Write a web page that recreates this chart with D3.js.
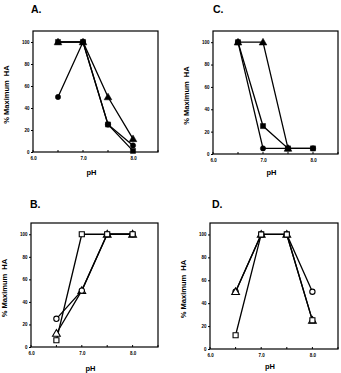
<!DOCTYPE html>
<html lang="en">
<head>
  <meta charset="UTF-8">
  <title>% Maximum HA vs pH</title>
  <script src="https://d3js.org/d3.v7.min.js"></script>
  <style>
    body { margin: 0; background: #fff; }
    svg { display: block; font-family: "Liberation Sans", Arial, sans-serif; font-weight: bold; }
  </style>
</head>
<body>
<svg id="chart" width="341" height="373"></svg>
<script>
  // pH values measured
  const phValues = [6.5, 7.0, 7.5, 8.0];
  const xTickLabels = [6.0, 7.0, 8.0];
  const xMinorTicks = [6.5, 7.5, 8.5];
  const yTickLabels = [0, 20, 40, 60, 80, 100];

  // panel A (filled symbols)
  const aCircle = [50, 100, 25, 6];
  const aSquare = [100, 100, 25, 1];
  const aTriangle = [100, 100, 50, 12];
  // panel C (filled symbols)
  const cCircle = [100, 5, 5, 5];
  const cSquare = [100, 25, 5, 5];
  const cTriangle = [100, 100, 5, null];
  // panel B (open symbols)
  const bCircle = [25, 50, 100, 100];
  const bSquare = [6, 100, 100, 100];
  const bTriangle = [12, 50, 100, 100];
  // panel D (open symbols)
  const dCircle = [50, 100, 100, 50];
  const dSquare = [12, 100, 100, 25];
  const dTriangle = [50, 100, 100, 25];

  const svg = d3.select("#chart");

  const panels = [
    { label: "A.", box: [33, 31, 158, 152], lx: 31, ly: 12.5, fill: true, ph: 175,
      series: [["triangle", aTriangle], ["circle", aCircle], ["square", aSquare]] },
    { label: "C.", box: [213, 31, 338, 154], lx: 213, ly: 13, fill: true, ph: 175,
      series: [["triangle", cTriangle], ["circle", cCircle], ["square", cSquare]] },
    { label: "B.", box: [31, 223, 158, 347], lx: 30, ly: 207.5, fill: false, ph: 371,
      series: [["triangle", bTriangle], ["circle", bCircle], ["square", bSquare]] },
    { label: "D.", box: [210, 223, 338, 349], lx: 212, ly: 207.5, fill: false, ph: 369,
      series: [["circle", dCircle], ["triangle", dTriangle], ["square", dSquare]] }
  ];

  const symbolType = { circle: d3.symbolCircle, square: d3.symbolSquare, triangle: d3.symbolTriangle };
  const symbolSize = { circle: 22, square: 26, triangle: 26 };

  panels.forEach(p => {
    const [x0, y0, x1, y1] = p.box;
    const x = d3.scaleLinear().domain([6, 8.5]).range([x0, x1]);
    const y = d3.scaleLinear().domain([0, 110]).range([y1, y0]);
    const g = svg.append("g");

    g.append("rect")
      .attr("x", x0).attr("y", y0)
      .attr("width", x1 - x0).attr("height", y1 - y0)
      .attr("fill", "none").attr("stroke", "#000").attr("stroke-width", 1.2);

    // y axis
    const yAxis = d3.axisLeft(y).tickValues(yTickLabels).tickSize(2).tickPadding(1.5)
      .tickFormat(d3.format("d"));
    g.append("g").attr("transform", `translate(${x0},0)`).call(yAxis)
      .call(a => a.select(".domain").remove())
      .call(a => a.selectAll("text").attr("font-size", 4.5).attr("font-family", null));

    // x axis
    const xAxis = d3.axisBottom(x).tickValues(xTickLabels).tickSize(0).tickPadding(5)
      .tickFormat(d3.format(".1f"));
    g.append("g").attr("transform", `translate(0,${y1})`).call(xAxis)
      .call(a => a.select(".domain").remove())
      .call(a => a.selectAll("text").attr("font-size", 4.5).attr("font-family", null));
    g.selectAll(".xtick").data(xTickLabels.concat(xMinorTicks)).enter().append("line")
      .attr("x1", d => x(d)).attr("x2", d => x(d))
      .attr("y1", y1).attr("y2", y1 - 2)
      .attr("stroke", "#000").attr("stroke-width", 1);

    // lines
    const line = d3.line()
      .defined(d => d[1] != null)
      .x(d => x(d[0])).y(d => y(d[1]));
    p.series.forEach(([shape, vals]) => {
      g.append("path")
        .datum(phValues.map((v, i) => [v, vals[i]]))
        .attr("d", line)
        .attr("fill", "none").attr("stroke", "#000").attr("stroke-width", 1.3);
    });

    // markers
    p.series.forEach(([shape, vals]) => {
      const pts = phValues.map((v, i) => [v, vals[i]]).filter(d => d[1] != null);
      g.selectAll(null).data(pts).enter().append("path")
        .attr("transform", d => `translate(${x(d[0])},${y(d[1]) + (shape === "triangle" ? 0.6 : 0)})`)
        .attr("d", d3.symbol().type(symbolType[shape]).size(symbolSize[shape]))
        .attr("fill", p.fill ? "#000" : "#fff")
        .attr("stroke", "#000").attr("stroke-width", p.fill ? 0.5 : 1.1);
    });

    // labels
    g.append("text").attr("x", p.lx).attr("y", p.ly)
      .attr("font-size", 10.5).text(p.label);
    g.append("text")
      .attr("transform", `translate(${x0 - 24},${(y0 + y1) / 2 + 3}) rotate(-90)`)
      .attr("text-anchor", "middle").attr("font-size", 7.5)
      .attr("xml:space", "preserve")
      .text("% Maximum  HA");
    g.append("text")
      .attr("x", (x0 + x1) / 2 - 4).attr("y", p.ph)
      .attr("text-anchor", "middle").attr("font-size", 7.5)
      .text("pH");
  });
</script>
</body>
</html>
